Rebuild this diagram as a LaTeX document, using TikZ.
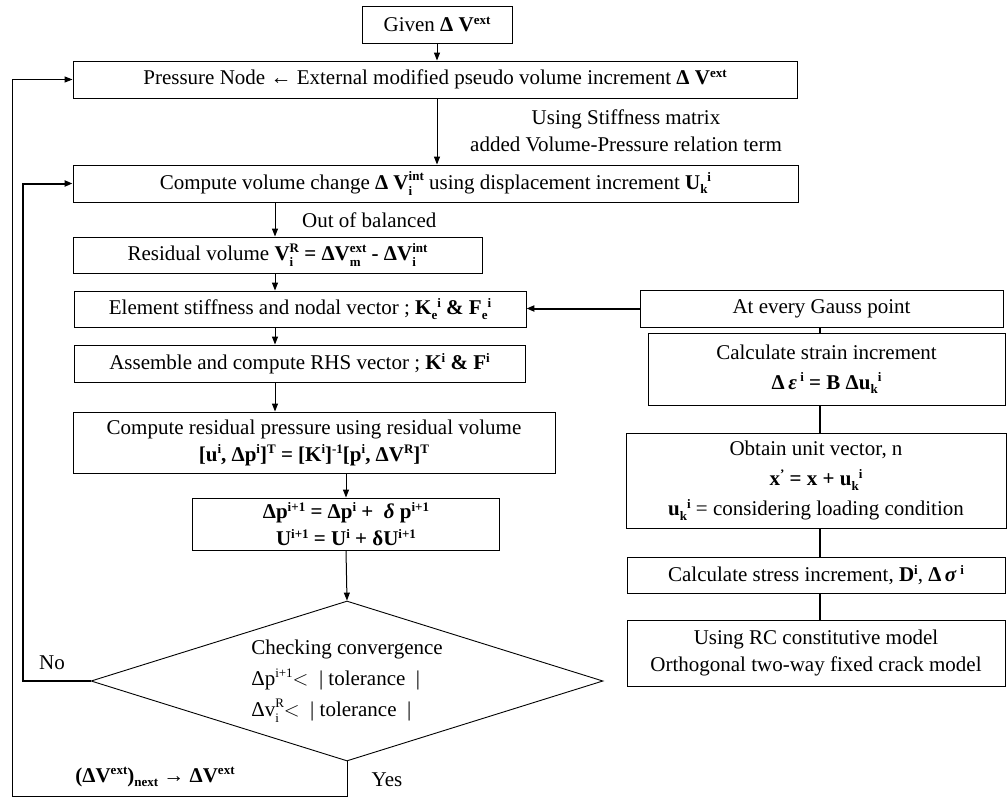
\documentclass[tikz,border=0pt]{standalone}
\usepackage{fontspec}
\setmainfont{Liberation Serif}
\usetikzlibrary{arrows.meta,shapes.geometric}
\newcommand\up[1]{\raisebox{7.5pt}{\fontsize{13}{13}\selectfont #1}}
\newcommand\dn[1]{\raisebox{-4.5pt}{\fontsize{13}{13}\selectfont #1}}
\newcommand\ud[2]{\rlap{\raisebox{-6pt}{\fontsize{13}{13}\selectfont #1}}\raisebox{8.6pt}{\fontsize{13}{13}\selectfont #2}}
\begin{document}
\begin{tikzpicture}[x=1pt,y=-1pt,
  box/.style={draw, line width=0.9pt, inner sep=0pt, align=center, font=\fontsize{21}{27}\selectfont},
  lbl/.style={inner sep=0pt, align=center, font=\fontsize{21}{27}\selectfont},
  arr/.style={-{Triangle[length=8pt,width=6pt]}, line width=1pt},
  lnk/.style={line width=1.6pt}]
\fill[white] (0,0) rectangle (1007,798);
\useasboundingbox (0,0) rectangle (1007,798);
\coordinate (colA) at (275,0);
\coordinate (colR) at (820,0);
\coordinate (nox) at (23,0);
\coordinate (outx) at (12,0);
\coordinate (yesy) at (0,796);
% left column
\node[box, minimum width=150, minimum height=37] (given) at (437,24.5) {Given \textbf{Δ V}\up{\textbf{ext}}};
\node[box, minimum width=724, minimum height=37] (pressure) at (435,79.5) {Pressure Node ← External modified pseudo volume increment \textbf{Δ V}\up{\textbf{ext}}};
\node[lbl] (stiff) at (626,131) {Using Stiffness matrix\\added Volume-Pressure relation term};
\node[box, minimum width=725, minimum height=37] (compute) at (435.5,183.5) {Compute volume change \textbf{Δ V\ud{i}{int}} using displacement increment \textbf{U\dn{k}\up{i}}};
\node[lbl, anchor=west] (oob) at (302,220) {Out of balanced};
\node[box, minimum width=409, minimum height=36] (resid) at (277.5,255) {Residual volume \textbf{V\ud{i}{R} = ΔV\ud{m}{ext} - ΔV\ud{i}{int}}};
\node[box, minimum width=452, minimum height=36] (elem) at (300,309) {Element stiffness and nodal vector ; \textbf{K\dn{e}\up{i} \& F\dn{e}\up{i}}};
\node[box, minimum width=451, minimum height=37] (assem) at (299.5,363.5) {Assemble and compute RHS vector ; \textbf{K\up{i} \& F\up{i}}};
\node[box, minimum width=482, minimum height=61] (cres) at (314,442.5) {Compute residual pressure using residual volume\\ \textbf{[u\up{i}, Δp\up{i}]\up{T} = [K\up{i}]\up{-1}[p\up{i}, ΔV\up{R}]\up{T}}};
\node[box, minimum width=307, minimum height=52] (dp) at (346,524) {\textbf{Δp\up{i+1} = Δp\up{i} + \ \textit{δ} p\up{i+1}}\\ \textbf{U\up{i+1} = U\up{i} + δU\up{i+1}}};
\node[box, diamond, aspect=3.2, align=left, minimum width=512, minimum height=160] (chk) at (347,681) {Checking convergence\\[4pt] Δp\up{i+1}$<$ \ |\ tolerance \ |\\[4pt] Δv\ud{i}{R}$<$ \ |\ tolerance \ |};
\node[lbl] (no) at (52,663) {No};
\node[lbl] (yes) at (387,780) {Yes};
\node[lbl] (nextv) at (155,777) {\textbf{(ΔV\up{ext})\dn{next}} → \textbf{ΔV\up{ext}}};
% right column
\node[box, minimum width=363, minimum height=37] (gauss) at (821.5,308.5) {At every Gauss point};
\node[box, minimum width=357, minimum height=72] (strain) at (826.5,369) {Calculate strain increment\\[3pt] \textbf{Δ\,\textit{ε}\,\up{i} = B Δu\dn{k}\up{i}}};
\node[box, minimum width=380, minimum height=95] (obtain) at (816,480.5) {Obtain unit vector, n\\[3pt] \textbf{x\up{'} = x + u\dn{k}\up{i}}\\[3pt] \textbf{u\dn{k}\up{i}} = considering loading condition};
\node[box, minimum width=378, minimum height=36] (stress) at (816,575) {Calculate stress increment, \textbf{D\up{i}}, \textbf{Δ\,\textit{σ}\,\up{i}}};
\node[box, minimum width=378, minimum height=66] (rc) at (816,653) {Using RC constitutive model\\ Orthogonal two-way fixed crack model};
% connectors
\draw[arr] (given.south) -- (given.south |- pressure.north);
\draw[arr] (pressure.south -| given.south) -- (compute.north -| given.south);
\draw[arr] (compute.south -| colA) -- (resid.north -| colA);
\draw[arr] (resid.south -| colA) -- (elem.north -| colA);
\draw[arr] (elem.south -| colA) -- (assem.north -| colA);
\draw[arr] (assem.south -| colA) -- (cres.north -| colA);
\draw[arr] (cres.south -| dp.north) -- (dp.north);
\draw[arr] (dp.south) -- (chk.north);
\draw[arr, line width=2pt] (gauss.west) -- (gauss.west -| elem.east);
\draw[lnk] (gauss.south -| colR) -- (strain.north -| colR);
\draw[lnk] (strain.south -| colR) -- (obtain.north -| colR);
\draw[lnk] (obtain.south -| colR) -- (stress.north -| colR);
\draw[lnk] (stress.south -| colR) -- (rc.north -| colR);
\draw[arr, line width=2pt] (chk.west) -- (chk.west -| nox) -- (compute.west -| nox) -- (compute.west);
\draw[arr] (chk.south) -- (chk.south |- yesy) -- (outx |- yesy) -- (outx |- pressure.west) -- (pressure.west);
\end{tikzpicture}
\end{document}
